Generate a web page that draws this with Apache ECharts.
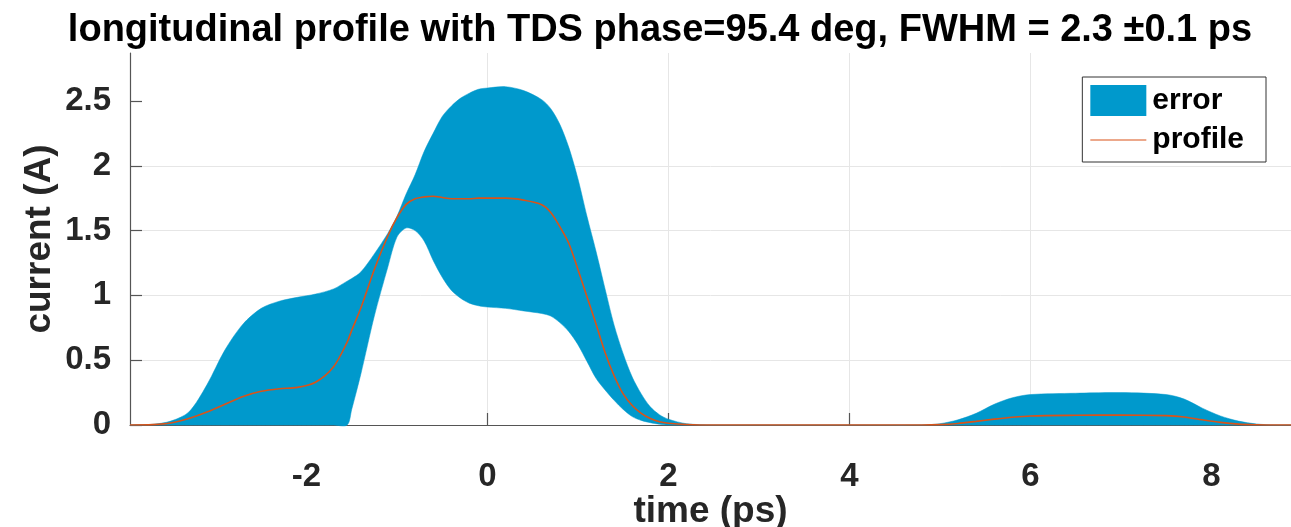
<!DOCTYPE html>
<html>
<head>
<meta charset="utf-8">
<script src="https://cdn.jsdelivr.net/npm/echarts@6/dist/echarts.min.js"></script>
<style>
  html, body { margin: 0; padding: 0; background: #ffffff; }
  #chart { width: 1291px; height: 527px; }
</style>
</head>
<body>
<div id="chart"></div>
<script>
// ---- data ----
const time = [-3.95, -3.7, -3.5, -3.3, -3.1, -2.9, -2.7, -2.5, -2.3, -2.1, -1.9, -1.7, -1.55, -1.5, -1.4, -1.25, -1.1, -1.0, -0.9, -0.8, -0.7, -0.6, -0.5, -0.4, -0.3, -0.2, -0.1, 0, 0.2, 0.4, 0.6, 0.7, 0.8, 0.9, 1.0, 1.1, 1.2, 1.3, 1.4, 1.5, 1.6, 1.7, 1.8, 1.9, 2.0, 2.2, 2.5, 3.0, 4.0, 4.8, 5.0, 5.2, 5.4, 5.6, 5.8, 6.0, 6.5, 7.0, 7.5, 7.7, 7.9, 8.1, 8.3, 8.5, 8.7, 8.88];
const profile = [0, 0.003, 0.015, 0.05, 0.10, 0.16, 0.22, 0.26, 0.28, 0.29, 0.33, 0.45, 0.64, 0.73, 0.90, 1.20, 1.46, 1.60, 1.70, 1.745, 1.76, 1.765, 1.755, 1.745, 1.745, 1.745, 1.75, 1.75, 1.75, 1.735, 1.70, 1.64, 1.53, 1.40, 1.20, 0.99, 0.78, 0.56, 0.38, 0.24, 0.15, 0.09, 0.05, 0.025, 0.014, 0.004, 0, 0, 0, 0, 0.003, 0.012, 0.028, 0.045, 0.06, 0.07, 0.075, 0.077, 0.072, 0.062, 0.04, 0.02, 0.007, 0.002, 0, 0];
const errorLower = [0, 0, 0, 0, 0, 0, 0, 0, 0, 0, 0, 0, 0, 0.12, 0.39, 0.84, 1.22, 1.45, 1.52, 1.50, 1.42, 1.27, 1.14, 1.04, 0.98, 0.94, 0.92, 0.91, 0.90, 0.88, 0.86, 0.84, 0.79, 0.72, 0.62, 0.49, 0.36, 0.27, 0.19, 0.12, 0.065, 0.035, 0.018, 0.006, 0, 0, 0, 0, 0, 0, 0, 0, 0, 0, 0, 0, 0, 0, 0, 0, 0, 0, 0, 0, 0, 0];
const errorUpper = [0, 0.005, 0.03, 0.10, 0.31, 0.58, 0.78, 0.90, 0.955, 0.985, 1.01, 1.05, 1.11, 1.13, 1.18, 1.32, 1.48, 1.61, 1.78, 1.93, 2.11, 2.25, 2.38, 2.46, 2.52, 2.56, 2.59, 2.60, 2.61, 2.58, 2.51, 2.44, 2.32, 2.14, 1.90, 1.61, 1.34, 1.05, 0.77, 0.55, 0.37, 0.24, 0.14, 0.08, 0.045, 0.01, 0, 0, 0, 0, 0.01, 0.04, 0.09, 0.16, 0.21, 0.235, 0.245, 0.25, 0.235, 0.20, 0.13, 0.07, 0.03, 0.008, 0, 0];
const xTicks = [-2, 0, 2, 4, 6, 8];
const yTicks = [0, 0.5, 1, 1.5, 2, 2.5];
const titleText = 'longitudinal profile with TDS phase=95.4 deg, FWHM = 2.3 \u00b10.1 ps';

// ---- build series data ----
const bandData = time.map((t, i) => [t, errorLower[i], errorUpper[i]]);
const profileData = time.map((t, i) => [t, profile[i]]);

const FONT = '"Liberation Sans", Arial, Helvetica, sans-serif';
const BLUE = '#0099cc';
const ORANGE = '#d95319';

function renderBand(params, api) {
  if (params.dataIndex !== 0) return null;
  const upper = [];
  const lower = [];
  for (let i = 0; i < bandData.length; i++) {
    const d = bandData[i];
    upper.push(api.coord([d[0], d[2]]));
    lower.push(api.coord([d[0], d[1]]));
  }
  lower.reverse();
  const pts = upper.concat(lower);
  return {
    type: 'polygon',
    shape: { points: pts, smooth: 0.3 },
    style: { fill: BLUE, stroke: BLUE, lineWidth: 0.5 },
    silent: true
  };
}

const chart = echarts.init(document.getElementById('chart'), null, { renderer: 'canvas' });
chart.setOption({
  animation: false,
  backgroundColor: '#ffffff',
  title: {
    text: titleText,
    left: 655,
    textAlign: 'center',
    top: 7,
    textStyle: { fontFamily: FONT, fontSize: 38, fontWeight: 'bold', color: '#000000' }
  },
  legend: {
    right: 25,
    top: 77,
    orient: 'vertical',
    padding: [8, 22, 7, 8],
    itemGap: 9,
    itemWidth: 56,
    itemHeight: 31,
    borderColor: '#333333',
    borderWidth: 1,
    backgroundColor: '#ffffff',
    textStyle: { fontFamily: FONT, fontSize: 30, fontWeight: 'bold', color: '#000000', padding: [0, 0, 0, 1] },
    data: [
      { name: 'error', icon: 'rect' },
      { name: 'profile', icon: 'path://M0,0L100,0L100,2.2L0,2.2Z' }
    ]
  },
  grid: { left: 130, right: 0, top: 53, bottom: 102, containLabel: false, outerBoundsMode: 'none' },
  xAxis: {
    type: 'value',
    min: -3.95,
    max: 8.88,
    minInterval: 2,
    maxInterval: 2,
    name: 'time (ps)',
    nameLocation: 'middle',
    nameGap: 68,
    nameMoveOverlap: false,
    nameTextStyle: { fontFamily: FONT, fontSize: 37, fontWeight: 'bold', color: '#262626' },
    axisLine: { show: true, onZero: false, lineStyle: { color: '#555555', width: 1.2 } },
    axisTick: { show: true, inside: true, length: 12, customValues: xTicks, lineStyle: { color: '#555555', width: 1.2 } },
    axisLabel: { customValues: xTicks, margin: 35, fontFamily: FONT, fontSize: 33, fontWeight: 'bold', color: '#262626' },
    splitLine: { show: true, showMinLine: false, showMaxLine: false, lineStyle: { color: '#e6e6e6', width: 1 } }
  },
  yAxis: {
    type: 'value',
    min: 0,
    max: 2.87,
    minInterval: 0.5,
    maxInterval: 0.5,
    name: 'current (A)',
    nameLocation: 'middle',
    nameGap: 72,
    nameMoveOverlap: false,
    nameTextStyle: { fontFamily: FONT, fontSize: 37, fontWeight: 'bold', color: '#262626' },
    axisLine: { show: true, onZero: false, lineStyle: { color: '#555555', width: 1.2 } },
    axisTick: { show: true, inside: true, length: 12, customValues: yTicks, lineStyle: { color: '#555555', width: 1.2 } },
    axisLabel: { customValues: yTicks, margin: 19, fontFamily: FONT, fontSize: 33, fontWeight: 'bold', color: '#262626' },
    splitLine: { show: true, showMinLine: false, showMaxLine: false, lineStyle: { color: '#e6e6e6', width: 1 } }
  },
  series: [
    {
      name: 'error',
      type: 'custom',
      renderItem: renderBand,
      data: bandData,
      encode: { x: 0, y: [1, 2] },
      itemStyle: { color: BLUE },
      z: 2
    },
    {
      name: 'profile',
      type: 'line',
      data: profileData,
      symbol: 'none',
      smooth: 0.3,
      color: ORANGE,
      itemStyle: { color: ORANGE },
      lineStyle: { color: ORANGE, width: 1.6 },
      z: 5
    }
  ]
});
</script>
</body>
</html>
